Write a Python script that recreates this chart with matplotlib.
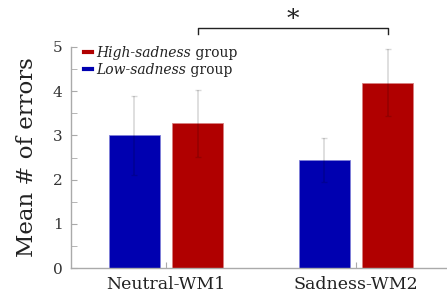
import matplotlib
matplotlib.use("Agg")
import matplotlib.pyplot as plt
import numpy as np
from matplotlib.lines import Line2D

conditions = ["Neutral-WM1", "Sadness-WM2"]
groups = ["Low-sadness", "High-sadness"]
low_means = [3.00, 2.44]
low_errs = [0.90, 0.50]
high_means = [3.27, 4.19]
high_errs = [0.75, 0.76]
sig_label = "*"

blue = "#0000b0"
red = "#b00000"
serif = "DejaVu Serif"

fig = plt.figure(figsize=(4.47, 2.99), dpi=100)
ax = fig.add_axes([71/447, 31/299, 380/447, 221/299])

x = np.arange(1, len(conditions) + 1)
w = 0.266
off = 0.167
ax.bar(x - off, low_means, w, color=blue, edgecolor="#8080d8", linewidth=0.6, zorder=2)
ax.bar(x + off, high_means, w, color=red, edgecolor="#d88080", linewidth=0.6, zorder=2)
ekw = dict(fmt="none", ecolor=(0, 0, 0, 0.15), elinewidth=1.2, capsize=2.5, capthick=1, zorder=3)
ax.errorbar(x - off, low_means, yerr=low_errs, **ekw)
ax.errorbar(x + off, high_means, yerr=high_errs, **ekw)

ax.set_xlim(0.5, 2.5)
ax.set_ylim(0, 5)
ax.set_xticks(x)
ax.set_xticklabels(conditions, family=serif, fontsize=12.5)
ax.set_yticks(range(6))
ax.set_yticks(np.arange(0.5, 5, 1.0), minor=True)
ax.tick_params(axis="y", labelsize=11, direction="in", length=4, color="#aaaaaa", pad=6)
ax.tick_params(axis="y", which="minor", direction="in", length=4, color="#aaaaaa")
ax.tick_params(axis="x", direction="in", length=4, color="#aaaaaa", pad=6)
for lab in ax.get_yticklabels():
    lab.set_family(serif)
    lab.set_color("#333333")
for lab in ax.get_xticklabels():
    lab.set_color("#222222")
for s in ["top", "right"]:
    ax.spines[s].set_visible(False)
for s in ["left", "bottom"]:
    ax.spines[s].set_color("#aaaaaa")
    ax.spines[s].set_linewidth(1)
ax.set_ylabel("Mean # of errors", family=serif, fontsize=16.5, color="#222222", labelpad=11)

# significance bracket between the high-sadness bars
bx0, bx1 = x[0] + off, x[1] + off
ytop, yleg = 5.44, 5.30
ax.plot([bx0, bx0, bx1, bx1], [yleg, ytop, ytop, yleg], color="#222222", lw=1, clip_on=False)
ax.text((bx0 + bx1) / 2, 5.62, sig_label, ha="center", va="center", fontsize=18,
        family=serif, color="#222222", clip_on=False)

handles = [Line2D([], [], color=red, lw=3), Line2D([], [], color=blue, lw=3)]
leg = ax.legend(handles, [groups[1], groups[0]], loc="upper left", bbox_to_anchor=(0.0, 1.062),
                frameon=False, handlelength=0.6, handletextpad=0.3, labelspacing=0.2,
                prop={"family": serif, "style": "italic", "size": 10})
for t in leg.get_texts():
    t.set_color("#222222")
fig.canvas.draw()
for t in leg.get_texts():
    ax.annotate(" group", xy=(1, 0), xycoords=t, ha="left", va="bottom",
                family=serif, fontsize=10, color="#222222")

fig.savefig("out.png", dpi=100)
